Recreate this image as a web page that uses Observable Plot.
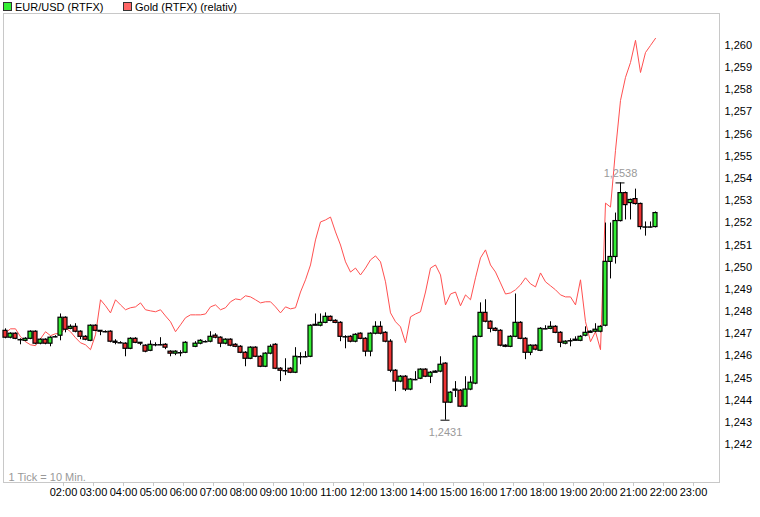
<!DOCTYPE html>
<html><head><meta charset="utf-8">
<script src="https://cdn.jsdelivr.net/npm/d3@7"></script>
<script src="https://cdn.jsdelivr.net/npm/@observablehq/plot@0.6"></script>
<style>
body{margin:0;background:#fff;font-family:"Liberation Sans",Arial,sans-serif;}
#wrap{position:relative;width:760px;height:517px;}
.lg{position:absolute;top:1px;font-size:11px;line-height:12px;white-space:nowrap;color:#000;}
.sw{display:inline-block;width:7px;height:7px;border:1px solid #333;margin-right:3px;vertical-align:0px;}
</style></head><body>
<div id="wrap">
<div id="chart"></div>
</div>
<script>
// ---- data ----
const seriesNames = ["EUR/USD (RTFX)", "Gold (RTFX) (relativ)"];
const startMinute = 4;     // first candle centre, minutes after 00:00
const stepMinutes = 10;    // 1 Tick = 10 Min.
const open = [1.24713,1.24682,1.24700,1.24673,1.24668,1.24677,1.24709,1.24655,1.24673,1.24655,
1.24686,1.24691,1.24772,1.24722,1.24731,1.24709,1.24686,1.24668,1.24736,1.24713,
1.24709,1.24709,1.24664,1.24659,1.24655,1.24632,1.24677,1.24659,1.24646,1.24623,
1.24650,1.24650,1.24650,1.24619,1.24610,1.24614,1.24614,null,1.24641,1.24655,
1.24664,1.24664,1.24691,1.24682,1.24655,1.24673,1.24650,1.24641,1.24614,1.24587,
1.24637,1.24596,1.24551,1.24610,1.24650,1.24542,1.24533,1.24542,1.24524,1.24596,
1.24596,1.24596,1.24736,1.24736,1.24749,1.24776,1.24758,1.24749,1.24686,1.24686,
1.24664,1.24700,1.24677,1.24619,1.24700,1.24731,1.24704,1.24664,1.24533,1.24484,
1.24506,1.24448,1.24493,1.24497,1.24538,1.24506,1.24524,1.24529,1.24565,1.24389,
1.24443,1.24443,1.24371,1.24448,1.24475,1.24686,1.24794,1.24754,1.24722,1.24713,
1.24646,1.24641,1.24686,1.24749,1.24677,1.24614,1.24646,1.24623,1.24722,1.24722,
1.24731,1.24704,1.24655,1.24668,1.24668,1.24668,1.24691,1.24704,1.24709,1.24709,
1.24736,1.25024,1.25046,1.25208,1.25334,1.25289,1.25307,1.25285,1.25181,1.25181,
1.25181];
const high = [1.24722,1.24704,1.24704,1.24677,1.24682,1.24713,1.24713,1.24677,1.24677,1.24686,
1.24691,1.24789,1.24776,1.24740,1.24745,1.24713,1.24691,1.24740,1.24740,1.24713,
1.24713,1.24713,1.24673,1.24664,1.24659,1.24682,1.24682,1.24659,1.24650,1.24668,
1.24659,1.24682,1.24655,1.24623,1.24623,1.24623,1.24664,null,1.24664,1.24673,
1.24668,1.24709,1.24700,1.24686,1.24677,1.24677,1.24655,1.24646,1.24619,1.24641,
1.24641,1.24601,1.24614,1.24650,1.24655,1.24547,1.24587,1.24547,1.24637,1.24614,
1.24619,1.24740,1.24789,1.24789,1.24794,1.24780,1.24763,1.24754,1.24691,1.24691,
1.24700,1.24704,1.24682,1.24704,1.24754,1.24754,1.24709,1.24673,1.24538,1.24511,
1.24511,1.24497,1.24529,1.24542,1.24542,1.24529,1.24533,1.24596,1.24569,1.24439,
1.24484,1.24448,1.24506,1.24506,1.24691,1.24839,1.24853,1.24758,1.24727,1.24718,
1.24650,1.24691,1.24879,1.24754,1.24682,1.24650,1.24650,1.24727,1.24736,1.24754,
1.24736,1.24709,1.24668,1.24677,1.24686,1.24691,1.24731,1.24713,1.24745,1.24736,
1.25199,1.25199,1.25244,1.25380,1.25339,1.25307,1.25352,1.25289,1.25204,1.25204,
1.25249];
const low = [1.24677,1.24677,1.24673,1.24650,1.24664,1.24673,1.24650,1.24650,1.24650,1.24641,
1.24682,1.24668,1.24704,1.24718,1.24704,1.24673,1.24668,1.24664,1.24709,1.24691,
1.24704,1.24659,1.24650,1.24655,1.24596,1.24628,1.24655,1.24646,1.24614,1.24619,
1.24641,1.24646,1.24628,1.24596,1.24601,1.24596,1.24610,null,1.24637,1.24650,
1.24659,1.24659,1.24677,1.24637,1.24650,1.24641,1.24637,1.24610,1.24551,1.24583,
1.24592,1.24547,1.24547,1.24605,1.24538,1.24484,1.24511,1.24520,1.24520,1.24560,
1.24592,1.24592,1.24736,1.24731,1.24745,1.24754,1.24745,1.24664,1.24632,1.24659,
1.24659,1.24673,1.24596,1.24596,1.24695,1.24695,1.24659,1.24524,1.24439,1.24479,
1.24439,1.24443,1.24488,1.24493,1.24502,1.24475,1.24524,1.24524,1.24310,1.24385,
1.24412,1.24367,1.24367,1.24443,1.24470,1.24682,1.24749,1.24704,1.24709,1.24641,
1.24637,1.24637,1.24682,1.24673,1.24583,1.24601,1.24623,1.24619,1.24718,1.24718,
1.24700,1.24637,1.24650,1.24641,1.24668,1.24664,1.24686,1.24704,1.24704,1.24704,
1.24731,1.24947,1.25014,1.25204,1.25213,1.25213,1.25280,1.25168,1.25140,1.25177,
1.25177];
const close = [1.24682,1.24700,1.24677,1.24673,1.24677,1.24709,1.24655,1.24673,1.24655,1.24682,
1.24686,1.24772,1.24718,1.24731,1.24709,1.24686,1.24673,1.24736,1.24713,1.24709,
1.24709,1.24664,1.24659,1.24659,1.24632,1.24677,1.24659,1.24655,1.24619,1.24650,
1.24650,1.24650,1.24637,1.24610,1.24619,1.24614,1.24659,null,1.24655,1.24668,
1.24664,1.24686,1.24682,1.24655,1.24673,1.24646,1.24641,1.24614,1.24587,1.24637,
1.24596,1.24551,1.24610,1.24641,1.24542,1.24533,1.24533,1.24524,1.24596,1.24596,
1.24596,1.24736,1.24740,1.24749,1.24776,1.24758,1.24749,1.24686,1.24686,1.24664,
1.24695,1.24677,1.24619,1.24700,1.24731,1.24700,1.24664,1.24533,1.24484,1.24506,
1.24448,1.24493,1.24493,1.24538,1.24506,1.24524,1.24529,1.24560,1.24389,1.24434,
1.24448,1.24371,1.24448,1.24479,1.24686,1.24794,1.24754,1.24722,1.24713,1.24646,
1.24641,1.24686,1.24749,1.24677,1.24614,1.24646,1.24628,1.24722,1.24722,1.24731,
1.24704,1.24659,1.24664,1.24668,1.24673,1.24686,1.24704,1.24709,1.24718,1.24731,
1.25024,1.25046,1.25208,1.25334,1.25280,1.25303,1.25285,1.25181,1.25181,1.25181,
1.25244];
const gold = [1.24704,1.24722,1.24722,1.24686,1.24664,1.24650,1.24646,1.24677,1.24709,1.24691,
1.24700,1.24700,1.24727,1.24709,1.24682,1.24659,1.24650,1.24628,1.24695,1.24853,
1.24826,1.24794,1.24853,1.24830,1.24808,1.24817,1.24821,1.24839,1.24808,1.24803,
1.24799,1.24808,1.24780,1.24754,1.24709,1.24740,1.24772,1.24785,1.24785,1.24785,
1.24789,1.24821,1.24830,1.24808,1.24817,1.24844,1.24857,1.24853,1.24871,1.24866,
1.24853,1.24839,1.24844,1.24844,1.24821,1.24794,1.24821,1.24812,1.24817,1.24888,
1.24943,1.25010,1.25123,1.25204,1.25213,1.25226,1.25159,1.25100,1.25024,1.24978,
1.24996,1.24965,1.24996,1.25033,1.25051,1.25024,1.24934,1.24794,1.24754,1.24731,
1.24659,1.24776,1.24789,1.24799,1.24888,1.24996,1.25010,1.24965,1.24830,1.24879,
1.24888,1.24826,1.24875,1.24853,1.24952,1.25042,1.25078,1.25010,1.24978,1.24929,
1.24879,1.24884,1.24898,1.24920,1.24952,1.24925,1.24911,1.24974,1.24934,1.24916,
1.24898,1.24875,1.24866,1.24866,1.24830,1.24943,1.24754,1.24664,1.24709,1.24628,
1.25289,1.25271,1.25527,1.25752,1.25856,1.25923,1.26023,1.25878,1.25968,1.26000,
1.26032];
const yTicks = [1.242,1.243,1.244,1.245,1.246,1.247,1.248,1.249,1.250,1.251,1.252,1.253,1.254,1.255,1.256,1.257,1.258,1.259,1.260];
const xTickLabels = ["02:00","03:00","04:00","05:00","06:00","07:00","08:00","09:00","10:00","11:00","12:00","13:00","14:00","15:00","16:00","17:00","18:00","19:00","20:00","21:00","22:00","23:00"];
const extremeIndex = [88, 123];
const extremeLabels = ["1,2431", "1,2538"];
const extremePrices = [1.2431, 1.2538];
const extremeSide = ["low", "high"];
const note = "1 Tick = 10 Min.";

// ---- build ----
const GREEN = "#33ee33", RED = "#ee3333", GOLD = "#ff5050";
const day = Date.UTC(2024, 0, 1);
const MIN = 60000;
const tAt = k => new Date(day + (startMinute + stepMinutes * k) * MIN);
const shift = (d, m) => new Date(+d + m * MIN);
const candles = open.map((o, k) => ({time: tAt(k), open: o, high: high[k], low: low[k], close: close[k]}))
  .filter(d => d.open != null);
const bodies = candles.filter(d => d.open !== d.close);
const dojis = candles.filter(d => d.open === d.close);
const goldData = gold.map((g, k) => ({time: tAt(k), value: g}));
const xTicks = xTickLabels.map(s => new Date(day + (+s.slice(0, 2)) * 60 * MIN + (+s.slice(3, 5)) * MIN));
const extremes = extremeIndex.map((k, i) => ({time: tAt(k), price: extremePrices[i], label: extremeLabels[i], side: extremeSide[i]}));
const fmtY = d => d.toFixed(3).replace(".", ",");

const chart = Plot.plot({
  width: 760, height: 517,
  marginTop: 13, marginBottom: 35, marginLeft: 3, marginRight: 41,
  style: {fontFamily: "'Liberation Sans', Arial, sans-serif", fontSize: "11px", background: "white", color: "black", overflow: "visible"},
  x: {type: "utc", domain: [new Date(day), new Date(day + 716 / 30 * 60 * MIN)]},
  y: {domain: [1.24029, 1.26144]},
  marks: [
    Plot.frame({stroke: "#c8c8c8"}),
    Plot.axisX({ticks: xTicks, tickSize: 4, stroke: "#c8c8c8", tickFormat: () => "", label: null}),
    Plot.axisX({ticks: xTicks, tickSize: 0, tickPadding: 6, tickFormat: d3.utcFormat("%H:%M"), label: null, fill: "black"}),
    Plot.axisY({anchor: "right", ticks: yTicks, tickSize: 0, tickPadding: 5, tickFormat: fmtY, label: null, fill: "black"}),
    Plot.text([note], {frameAnchor: "bottom-left", dx: 5, dy: -2, fill: "#999", fontSize: 11}),
    Plot.line(goldData, {x: "time", y: "value", stroke: GOLD, strokeWidth: 1}),
    Plot.ruleX(candles, {x: "time", y1: "low", y2: "high", stroke: "black", strokeWidth: 1}),
    Plot.rect(bodies, {x1: d => shift(d.time, -4), x2: d => shift(d.time, 4), y1: "open", y2: "close",
      fill: d => d.close > d.open ? GREEN : RED, stroke: "black", strokeWidth: 1.2}),
    Plot.ruleY(dojis, {y: "close", x1: d => shift(d.time, -5), x2: d => shift(d.time, 5), stroke: "black", strokeWidth: 1.5}),
    Plot.ruleY(extremes, {y: "price", x1: d => shift(d.time, -9), x2: d => shift(d.time, 9), stroke: "black", strokeWidth: 1}),
    Plot.text(extremes.filter(d => d.side === "low"), {x: "time", y: "price", text: "label", dy: 12, fill: "#999"}),
    Plot.text(extremes.filter(d => d.side === "high"), {x: "time", y: "price", text: "label", dy: -9, fill: "#999"})
  ]
});
document.getElementById("chart").appendChild(chart);

// legend (HTML, above the plot frame)
const wrap = document.getElementById("wrap");
[[3, GREEN], [123, "#ff6666"]].forEach(([left, col], i) => {
  const el = document.createElement("div");
  el.className = "lg";
  el.style.left = left + "px";
  el.innerHTML = `<span class="sw" style="background:${col}"></span>${seriesNames[i]}`;
  wrap.appendChild(el);
});
</script>
</body></html>
